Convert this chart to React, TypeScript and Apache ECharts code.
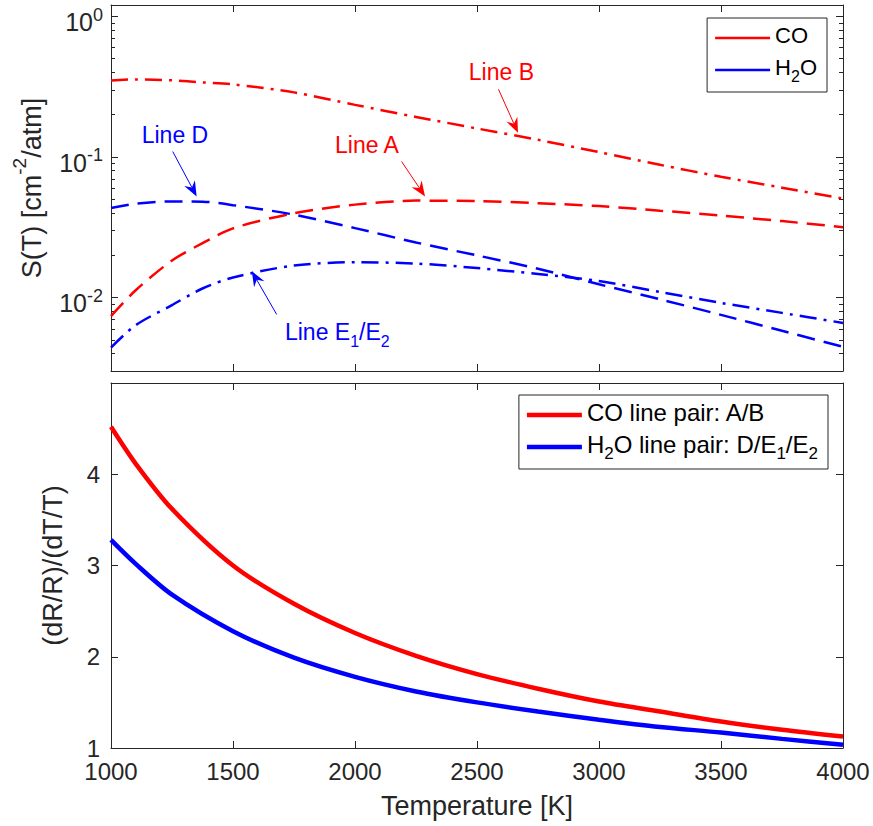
import React, { useEffect, useRef } from 'react';
import * as echarts from 'echarts';

// ---------- data ----------
const T_TOP = [1000, 1100, 1250, 1375, 1500, 1750, 2000, 2250, 2500, 2750, 3000, 3250, 3500, 3750, 4000];
const LINE_A = [0.00737, 0.0112, 0.0183, 0.0243, 0.031, 0.0397, 0.0457, 0.0488, 0.0484, 0.0468, 0.0446, 0.0414, 0.0382, 0.0349, 0.0316];
const LINE_B = [0.348, 0.355, 0.35, 0.338, 0.327, 0.287, 0.234, 0.192, 0.159, 0.132, 0.108, 0.0877, 0.0721, 0.0603, 0.0504];
const LINE_D = [0.0433, 0.0464, 0.0482, 0.048, 0.0453, 0.0388, 0.0311, 0.0246, 0.0199, 0.016, 0.0124, 0.0097, 0.00752, 0.00579, 0.00446];
const LINE_E = [0.0044, 0.00633, 0.00882, 0.01158, 0.01386, 0.01686, 0.01779, 0.01742, 0.01618, 0.01468, 0.01309, 0.01094, 0.00915, 0.00777, 0.00659];

const T_BOT = [1000, 1100, 1250, 1500, 1750, 2000, 2250, 2500, 2750, 3000, 3250, 3500, 3750, 4000];
const CO_PAIR = [4.52, 4.12, 3.62, 3.0, 2.58, 2.26, 2.01, 1.81, 1.65, 1.51, 1.4, 1.29, 1.2, 1.125];
const H2O_PAIR = [3.28, 3.02, 2.68, 2.28, 1.99, 1.78, 1.62, 1.5, 1.4, 1.31, 1.23, 1.17, 1.1, 1.035];

const X_MIN = 1000;
const X_MAX = 4000;
const X_STEP = 500;
const S_MIN = 0.003;
const S_MAX = 1.2;
const R_MIN = 1;
const R_MAX = 5;
const R_STEP = 1;
const MINOR_TICKS = [0.004, 0.005, 0.006, 0.007, 0.008, 0.009, 0.02, 0.03, 0.04, 0.05, 0.06, 0.07, 0.08, 0.09, 0.2, 0.3, 0.4, 0.5, 0.6, 0.7, 0.8, 0.9];

const TOP_LEGEND = ['CO', 'H2O'];
const BOT_LEGEND = ['CO line pair: A/B', 'H2O line pair: D/E1/E2'];

// annotations, in data coordinates of the upper panel
const ANNOTATIONS = [
  { text: '{n|Line B}', color: 'red', label: [2600, 0.38], tail: [2588, 0.302], tip: [2668, 0.148], align: 'center' },
  { text: '{n|Line A}', color: 'red', label: [2049, 0.116], tail: [2191, 0.0926], tip: [2287, 0.0523], align: 'center' },
  { text: '{n|Line D}', color: 'blue', label: [1262, 0.136], tail: [1253, 0.109], tip: [1351, 0.0523], align: 'center' },
  { text: '{n|Line E}{s|1}{n|/E}{s|2}', color: 'blue', label: [1713, 0.0054], tail: [1679, 0.00757], tip: [1577, 0.01537], align: 'left' },
];

// ---------- style ----------
const RED = '#ff0000';
const BLUE = '#0000ff';
const AX = '#262626';
const FONT = "'Liberation Sans', Arial, Helvetica, sans-serif";
const TICK_FS = 24;
const LABEL_FS = 27;
const ANNO_FS = 23;

const DASH = [18, 9];
const DASHDOT = [17, 7, 3, 7];

function zip(xs: number[], ys: number[]) {
  return xs.map((x, i) => [x, ys[i]]);
}

function legendFormatter(name: string) {
  if (name === 'CO') return '{n|CO}';
  if (name === 'H2O') return '{n|H}{s|2}{n|O}';
  if (name === 'CO line pair: A/B') return '{n|CO line pair: A/B}';
  return '{n|H}{s|2}{n|O line pair: D/E}{s|1}{n|/E}{s|2}';
}

function legendRich(fs: number, sub: number) {
  return {
    n: { fontSize: fs, fontFamily: FONT, color: '#000', padding: [0, 0, 6, 0] },
    s: { fontSize: sub, fontFamily: FONT, color: '#000', verticalAlign: 'bottom' },
  };
}

function arrow(tail: number[], tip: number[], color: string) {
  const dx = tip[0] - tail[0];
  const dy = tip[1] - tail[1];
  const len = Math.hypot(dx, dy);
  const ux = dx / len;
  const uy = dy / len;
  const px = -uy;
  const py = ux;
  const L = 15;
  const W = 6;
  const N = 10;
  const base = [tip[0] - ux * L, tip[1] - uy * L];
  const notch = [tip[0] - ux * N, tip[1] - uy * N];
  return [
    {
      type: 'line',
      shape: { x1: tail[0], y1: tail[1], x2: notch[0], y2: notch[1] },
      style: { stroke: color, lineWidth: 1 },
      z: 20,
    },
    {
      type: 'polygon',
      shape: {
        points: [tip, [base[0] + px * W, base[1] + py * W], notch, [base[0] - px * W, base[1] - py * W]],
      },
      style: { fill: color },
      z: 20,
    },
  ];
}

const axisLineStyle = { show: true, lineStyle: { color: AX, width: 1 } };
const tickInside = { show: true, inside: true, length: 7, lineStyle: { color: AX, width: 1 } };

export default function App() {
  const ref = useRef<HTMLDivElement>(null);

  useEffect(() => {
    if (!ref.current) return;
    const chart = echarts.init(ref.current, undefined, { renderer: 'svg' });

    const grids = [
      { left: 111, right: 30, top: 5, height: 366 },
      { left: 111, right: 30, top: 383, height: 365 },
    ];

    const xBase = {
      type: 'value',
      min: X_MIN,
      max: X_MAX,
      interval: X_STEP,
      splitLine: { show: false },
      axisLine: axisLineStyle,
      axisTick: tickInside,
    };

    const option: any = {
      animation: false,
      backgroundColor: '#fff',
      grid: grids,
      xAxis: [
        { ...xBase, gridIndex: 0, position: 'bottom', axisLabel: { show: false } },
        { ...xBase, gridIndex: 0, position: 'top', axisLabel: { show: false } },
        {
          ...xBase,
          gridIndex: 1,
          position: 'bottom',
          axisLabel: {
            show: true,
            fontSize: TICK_FS,
            fontFamily: FONT,
            color: AX,
            margin: 13,
            lineHeight: 20,
            formatter: (v: number) => String(v),
          },
          name: 'Temperature [K]',
          nameLocation: 'middle',
          nameGap: 44,
          nameTextStyle: { fontSize: LABEL_FS, fontFamily: FONT, color: AX },
        },
        { ...xBase, gridIndex: 1, position: 'top', axisLabel: { show: false } },
      ],
      yAxis: [
        {
          type: 'log',
          logBase: 10,
          gridIndex: 0,
          position: 'left',
          min: S_MIN,
          max: S_MAX,
          splitLine: { show: false },
          axisLine: axisLineStyle,
          axisTick: tickInside,
          axisLabel: {
            show: true,
            margin: 8,
            formatter: (v: number) => {
              const e = Math.log10(v);
              const r = Math.round(e);
              if (Math.abs(e - r) > 1e-6) return '';
              return `{b|10}{s|${r}}`;
            },
            rich: {
              b: { fontSize: 25, fontFamily: FONT, color: AX, padding: [12, 0, 0, 0] },
              s: { fontSize: 18, fontFamily: FONT, color: AX, verticalAlign: 'top', padding: [8, 0, 0, 0] },
            },
          },
          name: '{a|S(T) [cm}{s|-2}{a|/atm]}',
          nameLocation: 'middle',
          nameGap: 66,
          nameRotate: 90,
          nameTextStyle: {
            fontSize: LABEL_FS,
            fontFamily: FONT,
            color: AX,
            rich: {
              a: { fontSize: LABEL_FS, fontFamily: FONT, color: AX, padding: [8, 0, 0, 0] },
              s: { fontSize: 19, fontFamily: FONT, color: AX, verticalAlign: 'top' },
            },
          },
        },
        {
          type: 'log',
          logBase: 10,
          gridIndex: 0,
          position: 'right',
          min: S_MIN,
          max: S_MAX,
          splitLine: { show: false },
          axisLine: axisLineStyle,
          axisTick: tickInside,
          axisLabel: { show: false },
        },
        {
          type: 'value',
          gridIndex: 1,
          position: 'left',
          min: R_MIN,
          max: R_MAX,
          interval: R_STEP,
          splitLine: { show: false },
          axisLine: axisLineStyle,
          axisTick: tickInside,
          axisLabel: {
            show: true,
            fontSize: TICK_FS,
            fontFamily: FONT,
            color: AX,
            margin: 11,
            lineHeight: 20,
            formatter: (v: number) => (v >= R_MAX ? '' : String(v)),
          },
          name: '(dR/R)/(dT/T)',
          nameLocation: 'middle',
          nameGap: 45,
          nameRotate: 90,
          nameTextStyle: { fontSize: LABEL_FS, fontFamily: FONT, color: AX },
        },
        {
          type: 'value',
          gridIndex: 1,
          position: 'right',
          min: R_MIN,
          max: R_MAX,
          interval: R_STEP,
          splitLine: { show: false },
          axisLine: axisLineStyle,
          axisTick: tickInside,
          axisLabel: { show: false },
        },
      ],
      legend: [
        {
          data: TOP_LEGEND,
          orient: 'vertical',
          right: 46,
          top: 18,
          padding: [6, 10, 8, 8],
          itemGap: 10,
          itemWidth: 55,
          itemHeight: 2.5,
          icon: 'rect',
          borderColor: AX,
          borderWidth: 1,
          backgroundColor: '#fff',
          selectedMode: false,
          formatter: legendFormatter,
          textStyle: { fontSize: 22, fontFamily: FONT, color: '#000', rich: legendRich(22, 16) },
        },
        {
          data: BOT_LEGEND,
          orient: 'vertical',
          right: 45,
          top: 395,
          padding: [5, 10, 7, 8],
          itemGap: 8,
          itemWidth: 55,
          itemHeight: 4.5,
          icon: 'rect',
          borderColor: AX,
          borderWidth: 1,
          backgroundColor: '#fff',
          selectedMode: false,
          formatter: legendFormatter,
          textStyle: { fontSize: 24, fontFamily: FONT, color: '#000', rich: legendRich(24, 17) },
        },
      ],
      series: [
        {
          name: 'Line B',
          type: 'line',
          xAxisIndex: 0,
          yAxisIndex: 0,
          data: zip(T_TOP, LINE_B),
          smooth: 0.3,
          showSymbol: false,
          symbol: 'none',
          lineStyle: { color: RED, width: 2.5, type: DASHDOT },
          itemStyle: { color: RED },
        },
        {
          name: 'Line A',
          type: 'line',
          xAxisIndex: 0,
          yAxisIndex: 0,
          data: zip(T_TOP, LINE_A),
          smooth: 0.3,
          showSymbol: false,
          symbol: 'none',
          lineStyle: { color: RED, width: 2.5, type: DASH },
          itemStyle: { color: RED },
        },
        {
          name: 'Line D',
          type: 'line',
          xAxisIndex: 0,
          yAxisIndex: 0,
          data: zip(T_TOP, LINE_D),
          smooth: 0.3,
          showSymbol: false,
          symbol: 'none',
          lineStyle: { color: BLUE, width: 2.5, type: DASH },
          itemStyle: { color: BLUE },
        },
        {
          name: 'Line E',
          type: 'line',
          xAxisIndex: 0,
          yAxisIndex: 0,
          data: zip(T_TOP, LINE_E),
          smooth: 0.3,
          showSymbol: false,
          symbol: 'none',
          lineStyle: { color: BLUE, width: 2.5, type: DASHDOT },
          itemStyle: { color: BLUE },
        },
        {
          name: 'CO',
          type: 'line',
          xAxisIndex: 0,
          yAxisIndex: 0,
          data: [],
          symbol: 'none',
          lineStyle: { color: RED, width: 2.5, type: 'solid' },
          itemStyle: { color: RED },
        },
        {
          name: 'H2O',
          type: 'line',
          xAxisIndex: 0,
          yAxisIndex: 0,
          data: [],
          symbol: 'none',
          lineStyle: { color: BLUE, width: 2.5, type: 'solid' },
          itemStyle: { color: BLUE },
        },
        {
          name: 'minor ticks',
          type: 'custom',
          xAxisIndex: 0,
          yAxisIndex: 0,
          silent: true,
          data: MINOR_TICKS.map((v) => [X_MIN, v]),
          renderItem: (params: any, api: any) => {
            const v = api.value(1);
            const l = api.coord([X_MIN, v]);
            const r = api.coord([X_MAX, v]);
            const y = Math.round(l[1]) + 0.5;
            return {
              type: 'group',
              children: [
                { type: 'line', shape: { x1: l[0], y1: y, x2: l[0] + 4, y2: y }, style: { stroke: AX, lineWidth: 1 } },
                { type: 'line', shape: { x1: r[0] - 4, y1: y, x2: r[0], y2: y }, style: { stroke: AX, lineWidth: 1 } },
              ],
            };
          },
        },
        {
          name: 'CO line pair: A/B',
          type: 'line',
          xAxisIndex: 2,
          yAxisIndex: 2,
          data: zip(T_BOT, CO_PAIR),
          smooth: 0.3,
          showSymbol: false,
          symbol: 'none',
          lineStyle: { color: RED, width: 4.5 },
          itemStyle: { color: RED },
        },
        {
          name: 'H2O line pair: D/E1/E2',
          type: 'line',
          xAxisIndex: 2,
          yAxisIndex: 2,
          data: zip(T_BOT, H2O_PAIR),
          smooth: 0.3,
          showSymbol: false,
          symbol: 'none',
          lineStyle: { color: BLUE, width: 4.5 },
          itemStyle: { color: BLUE },
        },
      ],
    };

    chart.setOption(option);

    const graphics: any[] = [];
    ANNOTATIONS.forEach((a) => {
      const color = a.color === 'red' ? RED : BLUE;
      const lp = chart.convertToPixel({ xAxisIndex: 0, yAxisIndex: 0 }, a.label) as number[];
      const tp = chart.convertToPixel({ xAxisIndex: 0, yAxisIndex: 0 }, a.tail) as number[];
      const ip = chart.convertToPixel({ xAxisIndex: 0, yAxisIndex: 0 }, a.tip) as number[];
      graphics.push({
        type: 'text',
        x: lp[0],
        y: lp[1],
        z: 20,
        style: {
          text: a.text,
          fill: color,
          fontSize: ANNO_FS,
          fontFamily: FONT,
          align: a.align,
          verticalAlign: 'middle',
          textAlign: a.align,
          textVerticalAlign: 'middle',
          rich: {
            n: { fill: color, fontSize: ANNO_FS, fontFamily: FONT, padding: [0, 0, 6, 0] },
            s: { fill: color, fontSize: 16, fontFamily: FONT, verticalAlign: 'bottom' },
          },
        },
      });
      arrow(tp, ip, color).forEach((g) => graphics.push(g));
    });
    chart.setOption({ graphic: graphics });

    return () => {
      chart.dispose();
    };
  }, []);

  return (
    <div
      ref={ref}
      style={{ position: 'absolute', left: 0, top: 0, width: 873, height: 826, background: '#fff' }}
    />
  );
}
